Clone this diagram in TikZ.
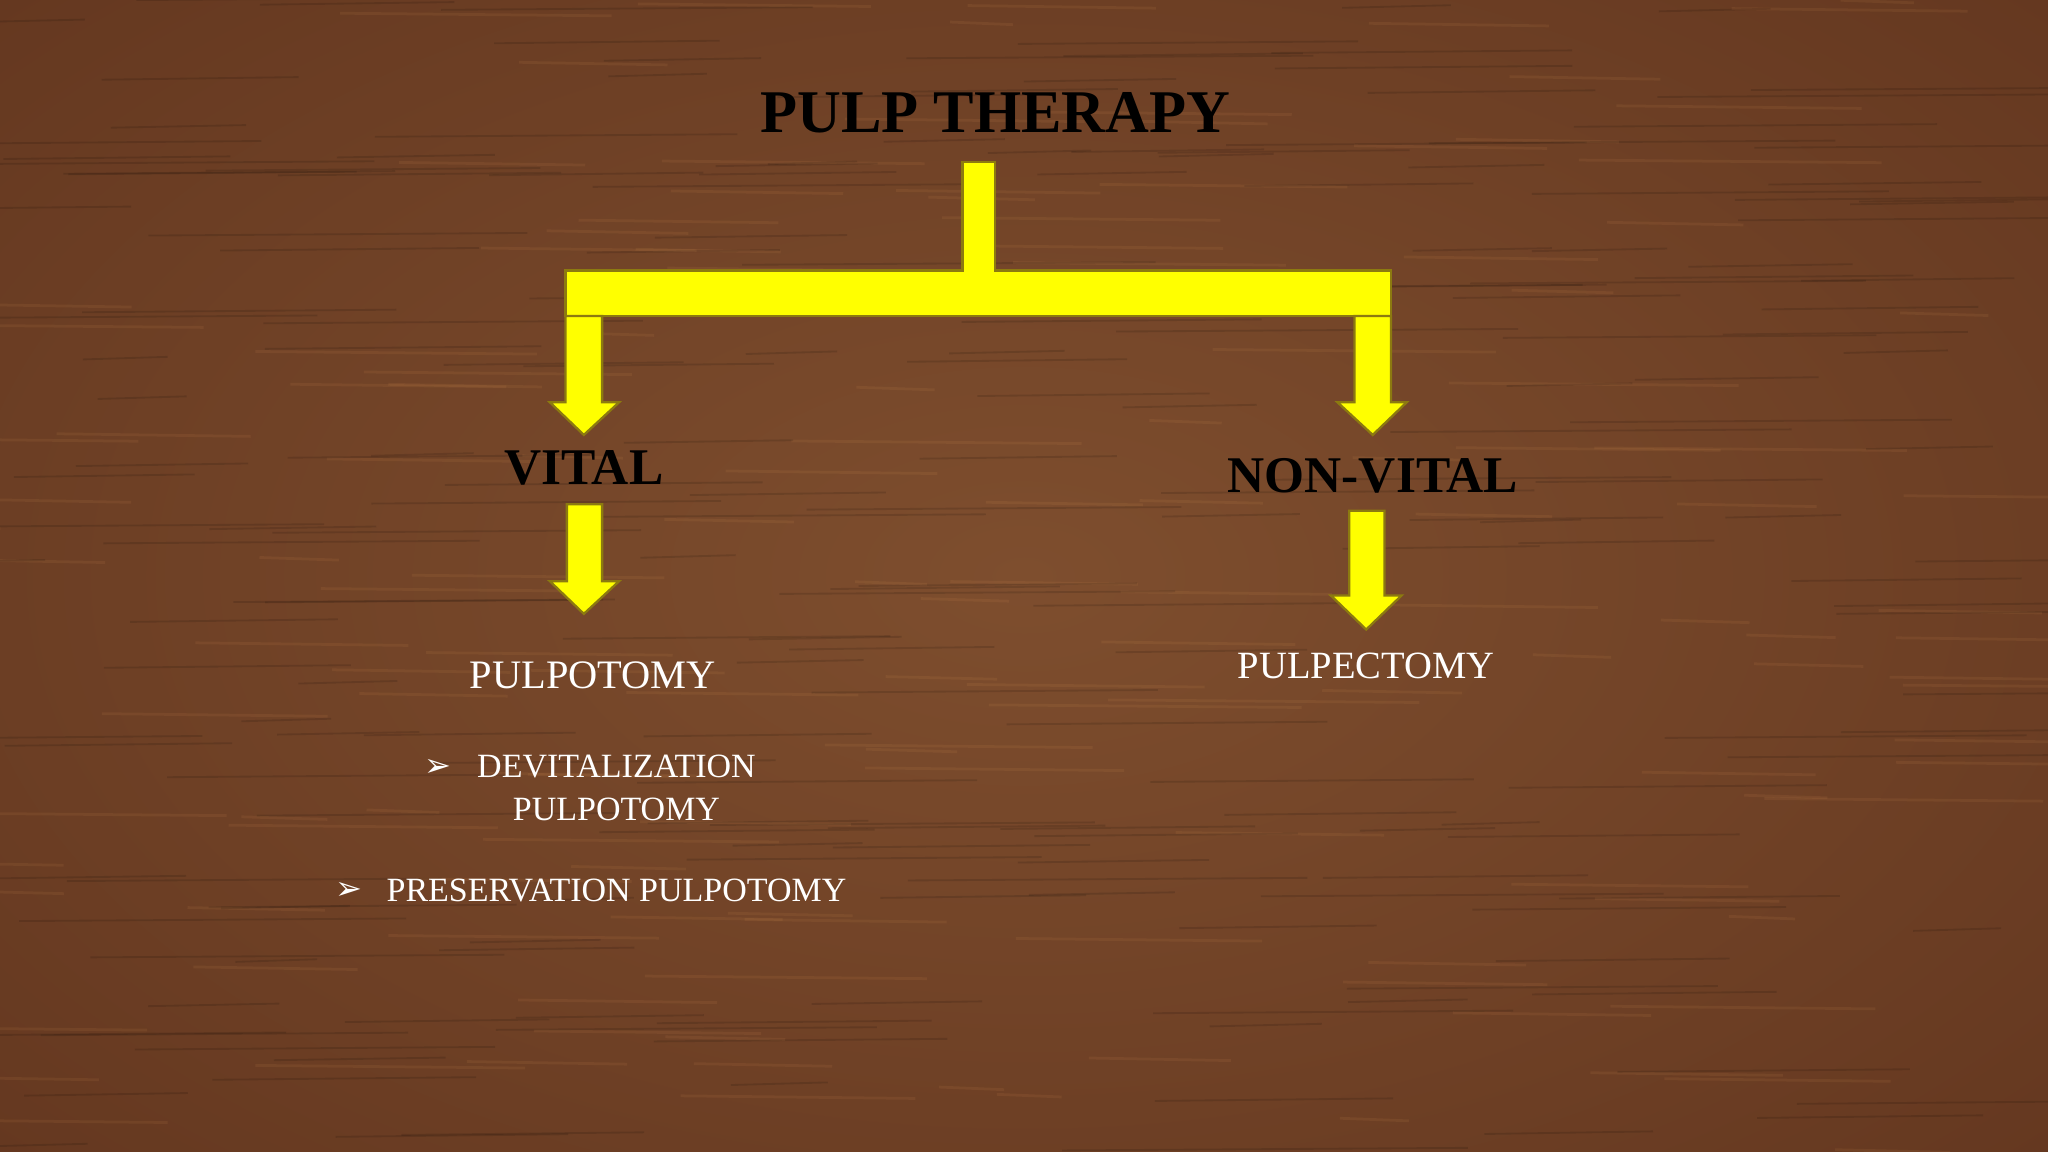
\documentclass[tikz,border=0pt]{standalone}
\usepackage{fontspec}
\setmainfont{Liberation Serif}
\newfontfamily\symfont{DejaVu Sans}
\definecolor{woodA}{HTML}{7E4E2E}
\definecolor{woodB}{HTML}{653820}
\definecolor{arrowfill}{HTML}{FFFF00}
\definecolor{arrowline}{HTML}{8C7A10}
\tikzset{
  px/.style={x=0.01cm,y=-0.01cm},
  ybar/.style={fill=arrowfill,draw=arrowline,line width=0.5pt},
  title/.style={font=\bfseries\fontsize{13.2}{15}\selectfont,text=black},
  head/.style={font=\bfseries\fontsize{11.2}{13}\selectfont,text=black},
  sub/.style={font=\fontsize{8.8}{10}\selectfont,text=white},
  item/.style={font=\fontsize{7.4}{9.4}\selectfont,text=white,align=center},
  bul/.style={font=\symfont\fontsize{7}{8}\selectfont,text=white}
}
\begin{document}
\begin{tikzpicture}[px]
\useasboundingbox (0,0) rectangle (1568,882);
\shade[inner color=woodA,outer color=woodB] (-300,-200) rectangle (1868,1082);
\pgfmathsetseed{7}
\foreach \i in {1,...,220}{
  \pgfmathsetmacro\yy{rnd*882}
  \pgfmathsetmacro\xx{rnd*1568-100}
  \pgfmathsetmacro\ll{60+rnd*260}
  \draw[black,opacity=0.12,line width=0.4pt] (\xx,\yy) -- (\xx+\ll,\yy-2);
}
\foreach \i in {1,...,150}{
  \pgfmathsetmacro\yy{rnd*882}
  \pgfmathsetmacro\xx{rnd*1568-100}
  \pgfmathsetmacro\ll{40+rnd*200}
  \draw[orange!60!white,opacity=0.08,line width=0.6pt] (\xx,\yy) -- (\xx+\ll,\yy+2);
}
\node[title] (t) at (762,86) {PULP THERAPY};
% connector
\draw[ybar] (737,124) -- (762,124) -- (762,207) -- (1065,207) -- (1065,242) -- (433,242) -- (433,207) -- (737,207) -- cycle;
\draw[ybar] (433,242) -- (461,242) -- (461,308) -- (474,308) -- (447,333) -- (421,308) -- (433,308) -- cycle;
\draw[ybar] (1037,242) -- (1065,242) -- (1065,308) -- (1077,308) -- (1051,333) -- (1024,308) -- (1037,308) -- cycle;
\node[head] (v) at (447,358) {VITAL};
\node[head] (nv) at (1051,364) {NON-VITAL};
\draw[ybar] (434,386) -- (461,386) -- (461,445) -- (474,445) -- (447,470) -- (421,445) -- (434,445) -- cycle;
\draw[ybar] (1033,391) -- (1060,391) -- (1060,456) -- (1073,456) -- (1046,482) -- (1019,456) -- (1033,456) -- cycle;
\node[sub] (po) at (454,517) {PULPOTOMY};
\node[sub,font=\fontsize{8.4}{10}\selectfont] (pe) at (1046,510) {PULPECTOMY};
\node[bul] (b1) at (335,588) {➢};
\node[item] (d) at (472,603) {DEVITALIZATION\\PULPOTOMY};
\node[bul] (b2) at (267,682) {➢};
\node[item] (p) at (472,682) {PRESERVATION PULPOTOMY};
\end{tikzpicture}
\end{document}
